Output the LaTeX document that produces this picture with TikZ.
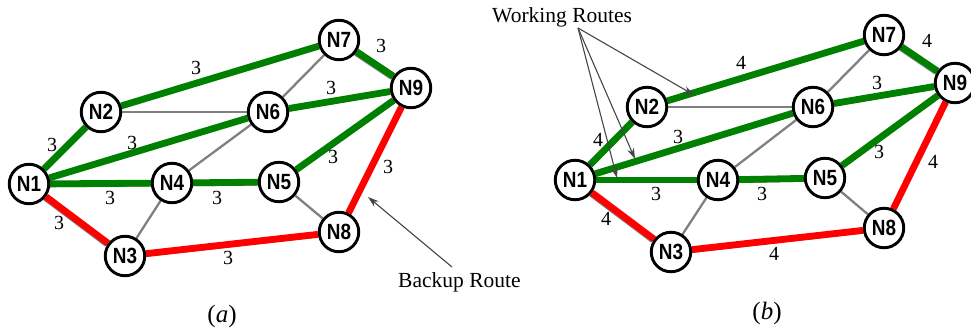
\documentclass[tikz,border=0pt]{standalone}
\usepackage{fontspec}
\setmainfont{Liberation Serif}
\newfontfamily\nodefont[FakeStretch=0.86]{Liberation Sans}
\usetikzlibrary{arrows.meta,backgrounds}
\definecolor{wgreen}{RGB}{0,128,0}
\definecolor{bred}{RGB}{255,0,0}
\definecolor{lgray}{RGB}{128,128,128}
\definecolor{agray}{RGB}{70,70,70}
\tikzset{
  nd/.style={circle,draw=black,line width=2.9pt,fill=white,minimum size=39.5pt,inner sep=0pt,
    font=\nodefont\bfseries\fontsize{22}{22}\selectfont},
  link/.style={draw=lgray,line width=2.3pt},
  under/.style={draw=lgray,line width=2.5pt,transform canvas={shift={(-2.2pt,-2.2pt)}}},
  work/.style={draw=wgreen,line width=6.8pt},
  backup/.style={draw=bred,line width=6.8pt},
  lbl/.style={font=\fontsize{20}{20}\selectfont,inner sep=0pt},
  note/.style={font=\fontsize{21.5}{22}\selectfont,inner sep=0pt},
  subcap/.style={font=\fontsize{25}{25}\selectfont,inner sep=0pt},
  pointer/.style={draw=agray,line width=1.1pt,-{Stealth[length=11pt,width=7pt]}},
}
\begin{document}
\begin{tikzpicture}[x=1pt,y=-1pt]
\useasboundingbox (0,0) rectangle (971,335);
% ---------- (a) ----------
\node[nd] (a1) at (29,184) {N1};
\node[nd] (a2) at (101,112) {N2};
\node[nd] (a3) at (125,256) {N3};
\node[nd] (a4) at (172,183) {N4};
\node[nd] (a5) at (279,182) {N5};
\node[nd] (a6) at (268,112) {N6};
\node[nd] (a7) at (339,40) {N7};
\node[nd] (a8) at (339,232) {N8};
\node[nd] (a9) at (411,88) {N9};
% ---------- (b) ----------
\node[nd] (b1) at (575,180) {N1};
\node[nd] (b2) at (647,107) {N2};
\node[nd] (b3) at (671,252) {N3};
\node[nd] (b4) at (718,180) {N4};
\node[nd] (b5) at (825,178) {N5};
\node[nd] (b6) at (813,107) {N6};
\node[nd] (b7) at (884,35) {N7};
\node[nd] (b8) at (884,228) {N8};
\node[nd] (b9) at (955,83) {N9};
\begin{pgfonlayer}{background}
\foreach \p in {a,b}{
  % plain links
  \draw[link] (\p2) -- (\p6);
  \draw[link] (\p6) -- (\p7);
  \draw[link] (\p4) -- (\p6);
  \draw[link] (\p3) -- (\p4);
  \draw[link] (\p5) -- (\p8);
  % grey underlay of route links
  \foreach \u/\v in {1/2,2/7,7/9,1/6,6/9,1/4,4/5,5/9,1/3,3/8,8/9}{
    \draw[under] (\p\u) -- (\p\v);
  }
  % working routes
  \foreach \u/\v in {1/2,2/7,7/9,1/6,6/9,1/4,4/5,5/9}{
    \draw[work] (\p\u) -- (\p\v);
  }
  % backup route
  \foreach \u/\v in {1/3,3/8,8/9}{
    \draw[backup] (\p\u) -- (\p\v);
  }
}
\end{pgfonlayer}
% ---------- labels (a) ----------
\node[lbl] (la27) at (196,68) {3};
\node[lbl] (la79) at (381,46) {3};
\node[lbl] (la69) at (331,88) {3};
\node[lbl] (la12) at (52,145) {3};
\node[lbl] (la16) at (132,143) {3};
\node[lbl] (la59) at (333,157) {3};
\node[lbl] (la89) at (388,167) {3};
\node[lbl] (la14) at (110,198) {3};
\node[lbl] (la45) at (217,198) {3};
\node[lbl] (la13) at (59,223) {3};
\node[lbl] (la38) at (228,258) {3};
% ---------- labels (b) ----------
\node[lbl] (lb27) at (741,63) {4};
\node[lbl] (lb79) at (927,41) {4};
\node[lbl] (lb69) at (877,83) {3};
\node[lbl] (lb12) at (598,140) {4};
\node[lbl] (lb16) at (678,137) {3};
\node[lbl] (lb59) at (879,152) {3};
\node[lbl] (lb89) at (933,162) {4};
\node[lbl] (lb14) at (656,194) {3};
\node[lbl] (lb45) at (762,194) {3};
\node[lbl] (lb13) at (606,219) {4};
\node[lbl] (lb38) at (774,254) {4};
% ---------- annotations ----------
\node[note,anchor=west] (backup) at (398,282) {Backup Route};
\coordinate (bkfrom) at (452,267);
\coordinate (bkto) at (368,197);
\draw[pointer] (bkfrom) -- (bkto);
\node[note,anchor=west] (working) at (492,17) {Working Routes};
\coordinate (wfrom) at (578,28);
\coordinate (w1) at (694,95);
\coordinate (w2) at (635,159);
\coordinate (w3) at (617,178);
\draw[pointer] (wfrom) -- (w1);
\draw[pointer] (wfrom) -- (w2);
\draw[pointer] (wfrom) -- (w3);
\node[subcap] (capa) at (222,316) {(\textit{a})};
\node[subcap] (capb) at (767,313) {(\textit{b})};
\end{tikzpicture}
\end{document}
